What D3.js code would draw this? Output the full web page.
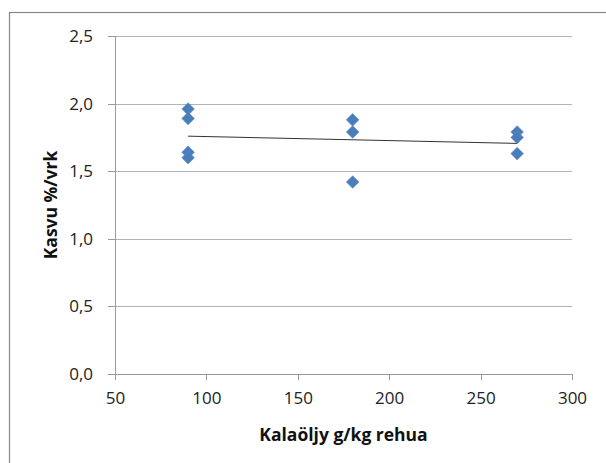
<html>
<head>
<meta charset="utf-8">
<script src="https://d3js.org/d3.v7.min.js"></script>
<style>
  body { margin: 0; background: #fff; }
  .axis text { font-family: "Open Sans", sans-serif; font-size: 17px; fill: #222; }
  .axis path, .axis line { stroke: #999; shape-rendering: crispEdges; }
</style>
</head>
<body>
<script>
// data
var feedDose = [90, 90, 90, 90, 180, 180, 180, 270, 270, 270];   // g/kg
var growth   = [1.96, 1.89, 1.64, 1.60, 1.88, 1.79, 1.42, 1.79, 1.75, 1.63]; // %/vrk
var xTicks = [50, 100, 150, 200, 250, 300];
var yTicks = [0, 0.5, 1.0, 1.5, 2.0, 2.5];
var xTitle = "Kalaöljy g/kg rehua";
var yTitle = "Kasvu %/vrk";

var w = 606, h = 463;
var pL = 115, pR = 572, pT = 36, pB = 374;   // plot area

var svg = d3.select("body").append("svg")
  .attr("width", w).attr("height", h);

// chart frame (cropped at right/bottom)
svg.append("rect")
  .attr("x", 9.5).attr("y", 12.5)
  .attr("width", w).attr("height", h)
  .attr("fill", "#fff").attr("stroke", "#868686").attr("stroke-width", 1.2);

var x = d3.scaleLinear().domain([50, 300]).range([pL, pR]);
var y = d3.scaleLinear().domain([0, 2.5]).range([pB, pT]);

var fi = d3.formatLocale({decimal: ",", thousands: " ", grouping: [3], currency: ["", "€"]});
var f1 = fi.format(".1f");

// horizontal gridlines
svg.append("g").selectAll("line")
  .data(yTicks.filter(function(d){ return d > 0; }))
  .enter().append("line")
  .attr("x1", pL).attr("x2", pR)
  .attr("y1", function(d){ return Math.round(y(d)) + 0.5; })
  .attr("y2", function(d){ return Math.round(y(d)) + 0.5; })
  .attr("stroke", "#b3b3b3");

// axes
var gx = svg.append("g").attr("class", "axis")
  .attr("transform", "translate(0," + pB + ")")
  .call(d3.axisBottom(x).tickValues(xTicks).tickSize(6).tickPadding(12).tickSizeOuter(0));
gx.select(".domain").attr("d", "M" + pL + ",0.5H" + pR);

var gy = svg.append("g").attr("class", "axis")
  .attr("transform", "translate(" + pL + ",0)")
  .call(d3.axisLeft(y).tickValues(yTicks).tickFormat(f1).tickSize(7).tickPadding(15).tickSizeOuter(0));
gy.select(".domain").attr("d", "M0.5," + pT + "V" + pB);

// trend line (least squares on the points)
var mx = d3.mean(feedDose), my = d3.mean(growth);
var sxy = d3.sum(feedDose, function(d, i){ return (d - mx) * (growth[i] - my); });
var sxx = d3.sum(feedDose, function(d){ return (d - mx) * (d - mx); });
var slope = sxy / sxx, icpt = my - slope * mx;
var xr = d3.extent(feedDose);
svg.append("line")
  .attr("x1", x(xr[0])).attr("y1", y(icpt + slope * xr[0]))
  .attr("x2", x(xr[1])).attr("y2", y(icpt + slope * xr[1]))
  .attr("stroke", "#333").attr("stroke-width", 1);

// points
svg.append("g").selectAll("path")
  .data(feedDose)
  .enter().append("path")
  .attr("d", d3.symbol().type(d3.symbolSquare).size(80))
  .attr("transform", function(d, i){
    return "translate(" + x(d) + "," + y(growth[i]) + ") rotate(45)";
  })
  .attr("fill", "#4a7ebb")
  .attr("stroke", "#5f8fc8").attr("stroke-width", 0.6);

// titles
svg.append("text")
  .attr("x", (pL + pR) / 2).attr("y", 441)
  .attr("text-anchor", "middle")
  .attr("font-family", "Open Sans, sans-serif").attr("font-weight", "bold")
  .attr("font-size", "17.5px").attr("fill", "#111")
  .text(xTitle);

svg.append("text")
  .attr("transform", "translate(57," + (pT + pB) / 2 + ") rotate(-90)")
  .attr("text-anchor", "middle")
  .attr("font-family", "Open Sans, sans-serif").attr("font-weight", "bold")
  .attr("font-size", "17.5px").attr("fill", "#111")
  .text(yTitle);
</script>
</body>
</html>
